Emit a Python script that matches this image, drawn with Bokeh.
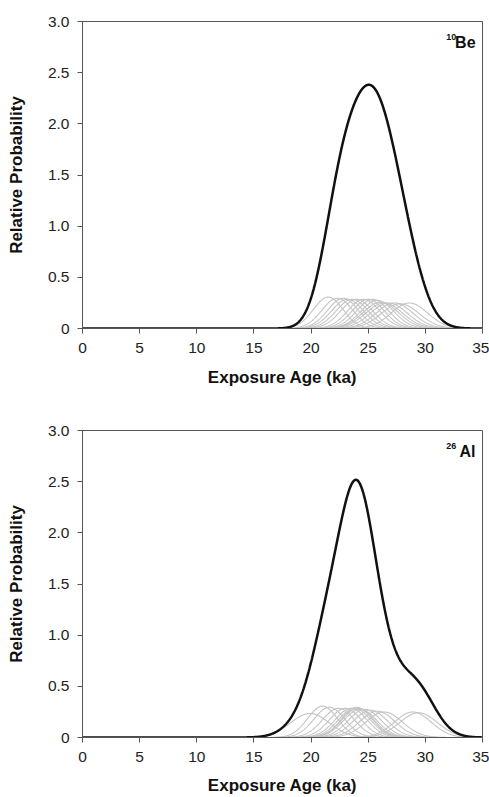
import numpy as np
from bokeh.plotting import figure
from bokeh.layouts import column
from bokeh.models import Range1d, FixedTicker, Label, CustomJSTickFormatter
from bokeh.embed import file_html
from bokeh.resources import INLINE

# individual exposure ages (ka) and 1-sigma uncertainties (ka)
be_age = [21.5, 22.3, 22.8, 23.2, 23.6, 24.0, 24.6, 25.0, 25.4, 25.8, 26.1, 26.4, 26.8, 27.3, 27.8, 28.6]
be_err = [1.30, 1.35, 1.35, 1.40, 1.40, 1.40, 1.40, 1.40, 1.40, 1.45, 1.55, 1.60, 1.60, 1.60, 1.65, 1.60]
al_age = [19.9, 21.0, 21.6, 22.4, 23.0, 23.5, 23.8, 24.0, 24.1, 24.3, 24.7, 25.2, 25.8, 26.4, 28.9, 29.4]
al_err = [1.70, 1.30, 1.35, 1.40, 1.40, 1.40, 1.40, 1.35, 1.40, 1.45, 1.45, 1.50, 1.55, 1.60, 1.60, 1.65]

x_ticks = [0, 5, 10, 15, 20, 25, 30, 35]
y_ticks = [0, 0.5, 1.0, 1.5, 2.0, 2.5, 3.0]

xg = np.linspace(0, 35, 1401)


def pdf(m, s):
    return np.exp(-0.5 * ((xg - m) / s) ** 2) / (s * np.sqrt(2 * np.pi))


FONT = "Liberation Sans"


def panel(ages, errs, sup, sym, height, top, bottom, title_standoff):
    p = figure(width=489, height=height, x_range=Range1d(0, 35), y_range=Range1d(0, 3),
               output_backend="svg", toolbar_location=None,
               min_border_left=82, min_border_right=7,
               min_border_top=top, min_border_bottom=bottom)
    curves = [pdf(a, e) for a, e in zip(ages, errs)]
    p.multi_line(xs=[xg] * len(curves), ys=curves, line_color="#c4c4c4", line_width=1.1)
    p.line(xg, np.sum(curves, axis=0), line_color="#111111", line_width=2.5)

    p.xgrid.visible = False
    p.ygrid.visible = False
    p.outline_line_color = "#555555"
    p.outline_line_width = 1
    p.background_fill_color = "white"
    p.border_fill_color = "white"

    for ax in (p.xaxis, p.yaxis):
        ax.axis_line_color = "#555555"
        ax.major_tick_line_color = "#555555"
        ax.major_tick_out = 5
        ax.major_tick_in = 0
        ax.minor_tick_out = 0
        ax.minor_tick_in = 0
        ax.major_label_text_font = FONT
        ax.major_label_text_font_size = "15.5px"
        ax.major_label_text_color = "#222222"
        ax.axis_label_text_font = FONT
        ax.axis_label_text_font_style = "bold"
        ax.axis_label_text_font_size = "17px"
        ax.axis_label_text_color = "#111111"

    p.xaxis.ticker = FixedTicker(ticks=x_ticks)
    p.yaxis.ticker = FixedTicker(ticks=y_ticks)
    p.yaxis.formatter = CustomJSTickFormatter(code="return tick == 0 ? '0' : tick.toFixed(1);")
    p.xaxis.major_label_standoff = 9
    p.yaxis.major_label_standoff = 8
    p.xaxis.axis_label = "Exposure Age (ka)"
    p.yaxis.axis_label = "Relative Probability"
    p.xaxis.axis_label_standoff = title_standoff
    p.yaxis.axis_label_standoff = 19

    p.add_layout(Label(x=34.39, y=2.795, text=sym, text_align="right", text_baseline="alphabetic",
                       text_font=FONT, text_font_style="bold", text_font_size="16px",
                       text_color="#111111"))
    p.add_layout(Label(x=32.70, y=2.845, text=sup, text_align="right", text_baseline="alphabetic",
                       text_font=FONT, text_font_style="bold", text_font_size="9px",
                       text_color="#111111"))
    return p


p1 = panel(be_age, be_err, "10", "Be", 400, 21, 72, 12)
p2 = panel(al_age, al_err, "26", "Al", 397, 30, 60, 11)

layout = column(p1, p2, spacing=0)
open("out.html", "w").write(file_html(layout, INLINE))
